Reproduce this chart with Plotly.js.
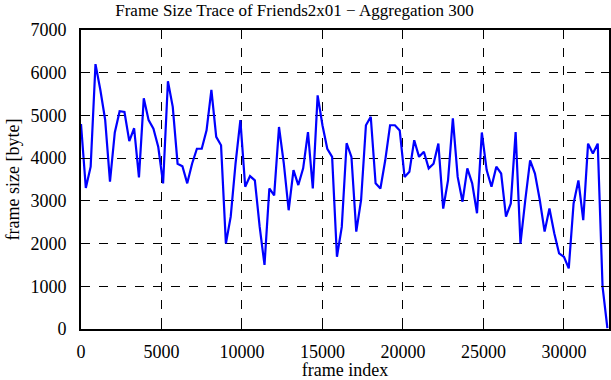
<!DOCTYPE html>
<html>
<head>
<meta charset="utf-8">
<script src="https://cdn.plot.ly/plotly-3.0.1.min.js"></script>
<style>html,body{margin:0;padding:0;background:#fff;}#chart{width:611px;height:380px;}</style>
</head>
<body>
<div id="chart"></div>
<script>
const aggregation = 300;
const frameSizes = [
  4800, 3300, 3800, 6200, 5600, 4900, 3450, 4600, 5100, 5080,
  4400, 4700, 3550, 5400, 4890, 4690, 4260, 3410, 5800, 5200,
  3870, 3810, 3410, 3870, 4220, 4220, 4650, 5600, 4500, 4300,
  2000, 2630, 3870, 4890, 3330, 3580, 3480, 2390, 1500, 3290,
  3130, 4730, 3870, 2780, 3720, 3370, 3760, 4610, 3290, 5470,
  4770, 4220, 4030, 1690, 2390, 4350, 4030, 2280, 3020, 4770,
  4970, 3410, 3290, 3950, 4770, 4770, 4650, 3560, 3680, 4420,
  4030, 4150, 3760, 3870, 4340, 2820, 3480, 4930, 3560, 2980,
  3760, 3410, 2710, 4600, 3720, 3330, 3800, 3640, 2630, 2940,
  4610, 2000, 3020, 3950, 3640, 3020, 2280, 2820, 2240, 1770,
  1690, 1420, 2940, 3480, 2550, 4340, 4110, 4340, 990, 20
];
const frameIndex = frameSizes.map((_, i) => i * aggregation);
const xTicks = [0, 5000, 10000, 15000, 20000, 25000, 30000];
const yTicks = [0, 1000, 2000, 3000, 4000, 5000, 6000, 7000];

const font = {family: "Liberation Serif, Times New Roman, serif", size: 18, color: "#000"};
const titleFont = Object.assign({}, font, {size: 17});
const axisCommon = {
  showline: true, linecolor: "#000", linewidth: 2, mirror: "ticks",
  ticks: "inside", ticklen: 8, tickwidth: 1, tickcolor: "#000",
  showgrid: true, gridcolor: "#000", gridwidth: 1, griddash: "dash",
  zeroline: false, tickfont: font, automargin: false
};

Plotly.newPlot("chart", [{
  x: frameIndex, y: frameSizes, type: "scatter", mode: "lines",
  line: {color: "#0000ff", width: 2.2}
}], {
  width: 611, height: 380,
  margin: {l: 81, r: 2, t: 30, b: 51},
  paper_bgcolor: "#fff", plot_bgcolor: "#fff",
  showlegend: false,
  font: font,
  title: {text: "Frame Size Trace of Friends2x01 \u2212 Aggregation 300", font: titleFont, x: 0.482, xanchor: "center", y: 0.99, yanchor: "top"},
  xaxis: Object.assign({}, axisCommon, {
    range: [0, 32800], tickvals: xTicks, ticktext: xTicks.map(String),
    ticklabelstandoff: 5,
    title: {text: "frame index", font: font, standoff: 7}
  }),
  yaxis: Object.assign({}, axisCommon, {
    range: [0, 7000], tickvals: yTicks, ticktext: yTicks.map(String),
    ticklabelstandoff: 9,
    title: {text: "frame size [byte]", font: font, standoff: 6}
  })
}, {displayModeBar: false, staticPlot: true});
</script>
</body>
</html>
